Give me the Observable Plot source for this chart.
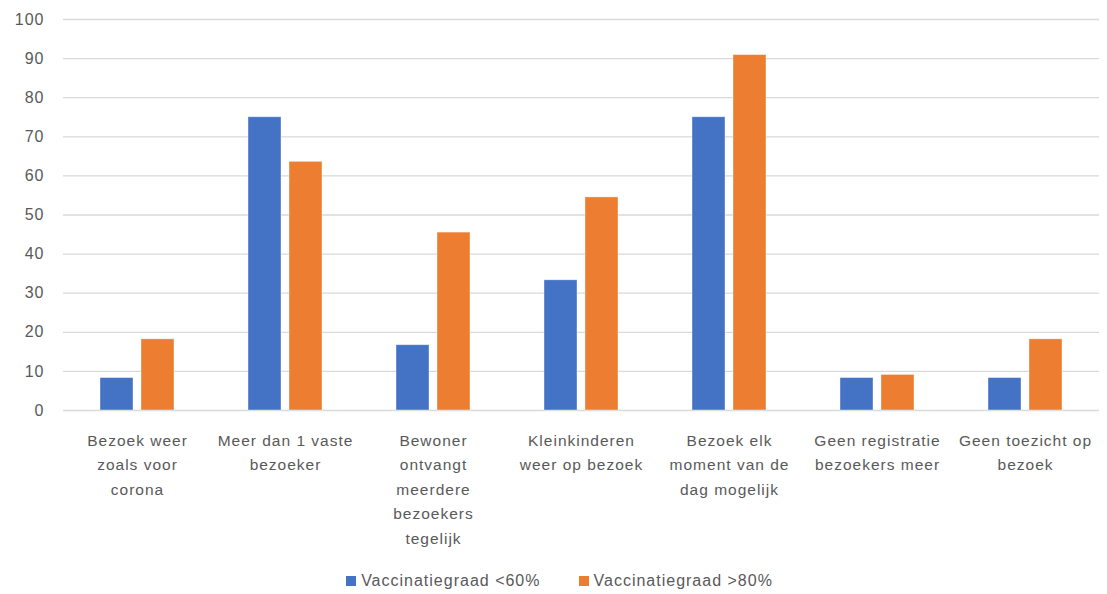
<!DOCTYPE html>
<html>
<head>
<meta charset="utf-8">
<script src="https://cdn.jsdelivr.net/npm/d3@7"></script>
<script src="https://cdn.jsdelivr.net/npm/@observablehq/plot@0.6"></script>
<style>
  html, body { margin: 0; padding: 0; background: #fff; }
  body { width: 1107px; height: 594px; overflow: hidden; font-family: "Liberation Sans", Arial, sans-serif; }
  #legend { display: flex; justify-content: center; align-items: center; gap: 38px; font-size: 16px; letter-spacing: 1px; color: #595959; margin-top: 12px; padding-left: 12px; }
  #legend .item { display: flex; align-items: center; gap: 5px; }
  #legend .sw { width: 10px; height: 10px; display: inline-block; }
</style>
</head>
<body>
<div id="chart"></div>
<div id="legend"></div>
<script>
const categories = [
  "Bezoek weer\nzoals voor\ncorona",
  "Meer dan 1 vaste\nbezoeker",
  "Bewoner\nontvangt\nmeerdere\nbezoekers\ntegelijk",
  "Kleinkinderen\nweer op bezoek",
  "Bezoek elk\nmoment van de\ndag mogelijk",
  "Geen registratie\nbezoekers meer",
  "Geen toezicht op\nbezoek"
];
const seriesNames = ["Vaccinatiegraad <60%", "Vaccinatiegraad >80%"];
const lowVacc = [8.3, 75, 16.7, 33.3, 75, 8.3, 8.3];
const highVacc = [18.2, 63.6, 45.5, 54.5, 90.9, 9.1, 18.2];
const colors = ["#4472C4", "#ED7D31"];
const yTicks = [0, 10, 20, 30, 40, 50, 60, 70, 80, 90, 100];

const data = [];
categories.forEach((c, i) => {
  data.push({category: c, series: seriesNames[0], value: lowVacc[i]});
  data.push({category: c, series: seriesNames[1], value: highVacc[i]});
});

const chart = Plot.plot({
  width: 1107,
  height: 560,
  marginTop: 19,
  marginBottom: 150,
  marginLeft: 63,
  marginRight: 8,
  style: {fontFamily: "Liberation Sans, Arial, sans-serif", fontSize: "15px", color: "#595959", background: "#fff", letterSpacing: "1px"},
  fx: {domain: categories, paddingInner: 0, paddingOuter: 0, label: null},
  x: {domain: seriesNames, paddingInner: 0.2, paddingOuter: 0.9, axis: null},
  y: {domain: [0, 100], ticks: yTicks, label: null},
  color: {domain: seriesNames, range: colors},
  marks: [
    Plot.gridY(yTicks, {stroke: "#d9d9d9", strokeOpacity: 1, strokeWidth: 1.3}),
    Plot.axisY(yTicks, {tickSize: 0, tickPadding: 19, label: null, fill: "#595959", fontSize: 16}),
    Plot.axisFx({anchor: "bottom", tickSize: 0, tickPadding: 18, label: null, fill: "#595959", fontSize: 15.5, lineHeight: 1.58, textAnchor: "middle"}),
    Plot.barY(data, {fx: "category", x: "series", y: "value", fill: "series", stroke: "#ffffff", strokeOpacity: 0.5, strokeWidth: 0.8})
  ]
});
document.getElementById("chart").append(chart);

const legend = document.getElementById("legend");
seriesNames.forEach((s, i) => {
  const item = document.createElement("div");
  item.className = "item";
  const sw = document.createElement("span");
  sw.className = "sw";
  sw.style.background = colors[i];
  const t = document.createElement("span");
  t.textContent = s;
  item.append(sw, t);
  legend.append(item);
});
</script>
</body>
</html>
